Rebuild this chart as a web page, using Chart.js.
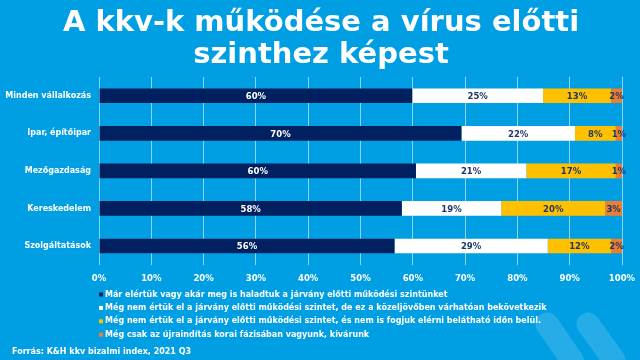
<!DOCTYPE html>
<html>
<head>
<meta charset="utf-8">
<script src="https://cdn.jsdelivr.net/npm/chart.js@4"></script>
<style>
  html, body { margin: 0; padding: 0; background: #009FE3; }
  #wrap { width: 640px; height: 360px; position: relative; }
</style>
</head>
<body>
<div id="wrap"><canvas id="kkvChart" width="640" height="360"></canvas></div>
<script>
// Data
const categories = ['Minden vállalkozás', 'Ipar, építőipar', 'Mezőgazdaság', 'Kereskedelem', 'Szolgáltatások'];
const seriesNames = [
  'Már elértük vagy akár meg is haladtuk a járvány előtti működési szintünket',
  'Még nem értük el a járvány előtti működési szintet, de ez a közeljövőben várhatóan bekövetkezik',
  'Még nem értük el a járvány előtti működési szintet, és nem is fogjuk elérni belátható időn belül.',
  'Még csak az újraindítás korai fázisában vagyunk, kivárunk'
];
// segment lengths (%) as measured on the bars
const reached = [59.9, 69.3, 60.6, 57.9, 56.5];
const soon = [25.0, 21.7, 21.1, 19.0, 29.3];
const notSoon = [13.0, 7.8, 17.1, 19.9, 12.1];
const waiting = [2.1, 1.2, 1.2, 3.2, 2.1];
// printed labels
const reachedLbl = ['60%', '70%', '60%', '58%', '56%'];
const soonLbl = ['25%', '22%', '21%', '19%', '29%'];
const notSoonLbl = ['13%', '8%', '17%', '20%', '12%'];
const waitingLbl = ['2%', '1%', '1%', '3%', '2%'];
const xTicks = ['0%', '10%', '20%', '30%', '40%', '50%', '60%', '70%', '80%', '90%', '100%'];
const source = 'Forrás: K&H kkv bizalmi index, 2021 Q3';

const colors = ['#002060', '#FFFFFF', '#FFC000', '#ED7D31'];
const labelColors = ['#FFFFFF', '#1F3864', '#1F3864', '#1F3864'];
const allLabels = [reachedLbl, soonLbl, notSoonLbl, waitingLbl];
const FONT = '"DejaVu Sans", Verdana, sans-serif';

// background + chevron decoration
const backdrop = {
  id: 'backdrop',
  beforeDraw(chart) {
    const c = chart.ctx;
    c.save();
    c.fillStyle = '#009FE3';
    c.fillRect(0, 0, chart.width, chart.height);
    c.strokeStyle = 'rgba(255,255,255,0.15)';
    c.lineWidth = 23;
    c.lineJoin = 'round';
    c.lineCap = 'round';
    [[547, 572], [588, 614]].forEach(([x0, x1]) => {
      c.beginPath();
      c.moveTo(x0, 324);
      c.lineTo(x1, 360);
      c.lineTo(x0, 396);
      c.stroke();
    });
    c.restore();
  }
};

// value labels inside the bar segments
const segLabels = {
  id: 'segLabels',
  afterDatasetsDraw(chart) {
    const c = chart.ctx;
    c.save();
    c.font = 'bold 8.5px ' + FONT;
    c.textAlign = 'center';
    c.textBaseline = 'middle';
    chart.data.datasets.forEach((ds, di) => {
      chart.getDatasetMeta(di).data.forEach((bar, i) => {
        c.fillStyle = labelColors[di];
        c.fillText(allLabels[di][i], (bar.x + bar.base) / 2, bar.y + 1);
      });
    });
    c.restore();
  }
};

// legend list + source line
const footer = {
  id: 'footer',
  afterDraw(chart) {
    const c = chart.ctx;
    const left = chart.chartArea.left;
    c.save();
    c.font = 'bold 8px ' + FONT;
    c.textBaseline = 'middle';
    seriesNames.forEach((name, i) => {
      const y = 294.5 + i * 13.4;
      c.fillStyle = colors[i];
      c.fillRect(left, y - 2, 4, 4);
      c.fillStyle = '#FFFFFF';
      c.fillText(name, left + 6, y);
    });
    c.fillText(source, 12, 352);
    c.restore();
  }
};

const ctx = document.getElementById('kkvChart').getContext('2d');
const kkvChart = new Chart(ctx, {
  type: 'bar',
  data: {
    labels: categories,
    datasets: [reached, soon, notSoon, waiting].map((d, i) => ({
      label: seriesNames[i],
      data: d,
      backgroundColor: colors[i],
      borderWidth: 0,
      barPercentage: 0.39,
      categoryPercentage: 1
    }))
  },
  options: {
    indexAxis: 'y',
    animation: false,
    responsive: false,
    layout: { padding: { top: 0, right: 2, bottom: 67, left: 4 } },
    plugins: {
      legend: { display: false },
      tooltip: { enabled: false },
      title: {
        display: true,
        text: ['A kkv-k működése a vírus előtti', 'szinthez képest'],
        color: '#FFFFFF',
        font: { family: FONT, size: 29, weight: 'bold', lineHeight: 1.12 },
        padding: { top: 7, bottom: 5 }
      }
    },
    scales: {
      x: {
        stacked: true,
        min: 0,
        max: 100,
        grid: { color: 'rgba(200,235,250,0.7)', drawTicks: false },
        border: { display: false },
        afterFit: s => { s.paddingRight = 18; },
        ticks: {
          stepSize: 10,
          color: '#FFFFFF',
          font: { family: FONT, size: 8.5, weight: 'bold' },
          padding: 9,
          callback: (v, i) => xTicks[i]
        }
      },
      y: {
        stacked: true,
        grid: { display: false, drawTicks: false },
        border: { display: false },
        afterFit: s => { s.width = 95; },
        ticks: {
          color: '#FFFFFF',
          font: { family: FONT, size: 8, weight: 'bold' },
          padding: 8
        }
      }
    }
  },
  plugins: [backdrop, segLabels, footer]
});
</script>
</body>
</html>
